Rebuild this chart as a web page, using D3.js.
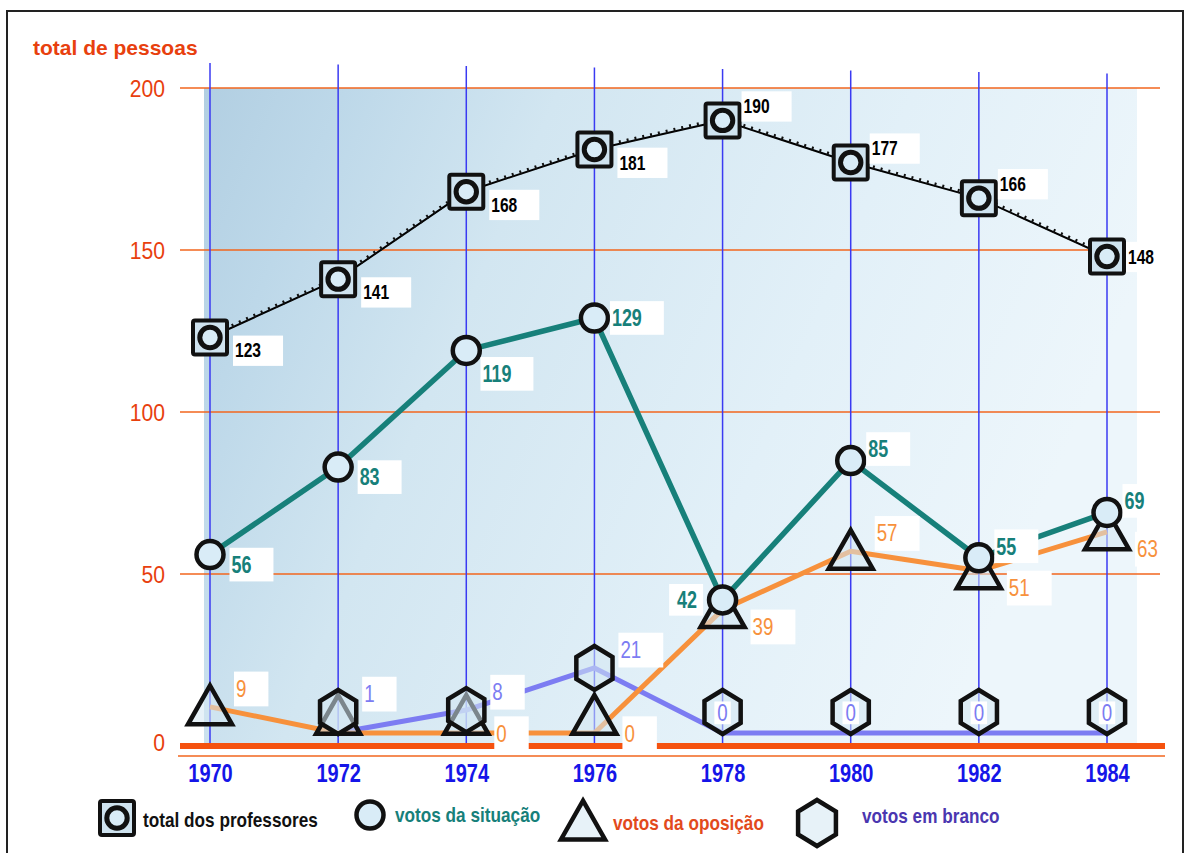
<!DOCTYPE html>
<html><head><meta charset="utf-8">
<script src="https://cdn.jsdelivr.net/npm/d3@7"></script>
<style>
html,body{margin:0;padding:0;background:#fff;}
svg{display:block;}
</style></head>
<body>
<svg id="chart" width="1186" height="853"></svg>
<script>
// ---- data ----
const years = [1970, 1972, 1974, 1976, 1978, 1980, 1982, 1984];
const totalProfessores = [123, 141, 168, 181, 190, 177, 166, 148];
const votosSituacao   = [56, 83, 119, 129, 42, 85, 55, 69];
const votosOposicao   = [9, 0, 0, 0, 39, 57, 51, 63];
const votosBranco     = [null, 1, 8, 21, 0, 0, 0, 0];
const yTicks = [0, 50, 100, 150, 200];
const yTitle = "total de pessoas";
const legendLabels = ["total dos professores", "votos da situação", "votos da oposição", "votos em branco"];

// label placement per point (layout only)
const placeTotal = ['rb','rb','rb','rb','ra','ra','ra','r'];
const placeSit   = ['rb','rb','b','r','l','ra','ra','ra'];
const placeOp    = ['ra',null,'rb','rb','rb','ra','rb','rb'];
const placeBr    = [null,'ra','ra','ra','c','c','c','c'];

const svg = d3.select("#chart");
const x = d3.scaleLinear().domain([1970, 1984]).range([210, 1107]);
const y = d3.scaleLinear().domain([0, 200]).range([736, 88]);
const SANS = "'Liberation Sans',Arial,Helvetica,sans-serif";

// frame
svg.append("rect").attr("x",7).attr("y",11).attr("width",1176).attr("height",850)
  .attr("fill","none").attr("stroke","#222").attr("stroke-width",2);

// background gradient
const defs = svg.append("defs");
const g1 = defs.append("linearGradient").attr("id","bg").attr("x1","0").attr("x2","1").attr("y1","0").attr("y2","0.3");
[[0,"#b2cfe2"],[0.14,"#bdd8e9"],[0.35,"#d2e6f1"],[0.7,"#e2f0f8"],[1,"#edf6fb"]].forEach(s=>
  g1.append("stop").attr("offset",s[0]).attr("stop-color",s[1]));
svg.append("rect").attr("x",x(1970)-6).attr("y",y(200)).attr("width",x(1984)-x(1970)+36)
  .attr("height",y(0)-y(200)+10).attr("fill","url(#bg)");

// gridlines (orange)
svg.append("g").selectAll("line").data(yTicks.filter(d=>d>0)).join("line")
  .attr("x1",180).attr("x2",1160).attr("y1",d=>y(d)).attr("y2",d=>y(d))
  .attr("stroke","#f2661e").attr("stroke-width",1.5);

// vertical year lines (blue)
svg.append("g").selectAll("line").data(years).join("line")
  .attr("x1",d=>x(d)).attr("x2",d=>x(d)).attr("y1",(d,i)=>63+i*1.5).attr("y2",y(0)+9)
  .attr("stroke","#3a3af2").attr("stroke-width",1.5);

// baseline (thick) + thin line
svg.append("line").attr("x1",180).attr("x2",1165).attr("y1",y(0)+10).attr("y2",y(0)+10)
  .attr("stroke","#f5520f").attr("stroke-width",6);
svg.append("line").attr("x1",178).attr("x2",1165).attr("y1",y(0)+20).attr("y2",y(0)+20)
  .attr("stroke","#f2661e").attr("stroke-width",1.5);

// helper: horizontally condensed text
function ctext(parent, tx, ty, str, o){
  const g = parent.append("g").attr("transform",`translate(${tx},${ty}) scale(${o.sx||0.8},1)`);
  g.append("text").attr("x",0).attr("y",0).attr("dy",o.dy||"0.36em")
    .attr("text-anchor",o.anchor||"start").attr("font-family",SANS)
    .attr("font-weight",o.weight||"bold").attr("font-size",o.size).attr("fill",o.color).text(str);
  return g;
}

// y tick labels
const yl = svg.append("g");
yTicks.forEach(d=>{
  ctext(yl, 165, d===0 ? y(0)+6 : y(d), d, {anchor:"end", size:24, weight:"normal", color:"#e8400e", sx:0.88});
});
svg.append("text").attr("x",33).attr("y",55).attr("font-family",SANS).attr("font-weight","bold")
  .attr("font-size",21).attr("fill","#e8400e").text(yTitle);

// x axis labels via d3 axis
const xAxis = d3.axisBottom(x).tickValues(years).tickFormat(d3.format("d")).tickSize(0);
const gx = svg.append("g").attr("transform",`translate(0,${y(0)+24})`).call(xAxis);
gx.select(".domain").remove();
gx.selectAll("text").attr("font-family",SANS).attr("font-weight","bold").attr("font-size",25)
  .attr("fill","#1515e8").attr("dy","0.75em").attr("transform","scale(0.8,1)");

// markers
function markerPath(type, s){
  if(type==="tri"){ const h=s*0.88; return `M0,${-h*0.55}L${s*0.5},${h*0.45}L${-s*0.5},${h*0.45}Z`; }
  if(type==="hex"){ const r=s*0.5; let p=[]; for(let k=0;k<6;k++){const a=Math.PI/3*k - Math.PI/2; p.push([r*0.95*Math.cos(a), r*Math.sin(a)]);} return "M"+p.map(q=>q.join(",")).join("L")+"Z"; }
  return "";
}
function drawMarker(g, type, cx, cy, s){
  const m = g.append("g").attr("transform",`translate(${cx},${cy})`);
  if(type==="sq"){
    m.append("rect").attr("x",-s/2).attr("y",-s/2).attr("width",s).attr("height",s)
      .attr("fill","#cfe3ef").attr("stroke","#111").attr("stroke-width",4).attr("rx",2);
    m.append("circle").attr("r",s*0.3).attr("fill","#d9ecf7").attr("stroke","#111").attr("stroke-width",5);
  } else if(type==="circ"){
    m.append("circle").attr("r",s/2).attr("fill","#d9ecf7").attr("stroke","#111").attr("stroke-width",4.5);
  } else {
    m.append("path").attr("d",markerPath(type,s)).attr("fill","#d4e8f3").attr("fill-opacity",0.55)
      .attr("stroke","#111").attr("stroke-width",4.5).attr("stroke-linejoin","miter");
  }
}

const series = [
  {vals: totalProfessores, type:"sq", size:34, color:"#000", lw:2, label:"#000", fs:20, w:"bold", place:placeTotal},
  {vals: votosSituacao, type:"circ", size:27, color:"#17807a", lw:5.5, label:"#17807a", fs:23, w:"bold", place:placeSit},
  {vals: votosOposicao, type:"tri", size:44, color:"#f7913c", lw:5, label:"#f7913c", fs:24, w:"normal", place:placeOp},
  {vals: votosBranco, type:"hex", size:44, color:"#7c7cf2", lw:5, label:"#7c7cf2", fs:24, w:"normal", place:placeBr}
];

// marker centre: markers of small values rest on the baseline
function cyOf(s, v){
  if(s.type==="sq"||s.type==="circ") return y(v);
  const base = y(0);
  const half = s.type==="tri" ? s.size*0.4 : s.size*0.5;
  return Math.min(y(v), base - half - 2);
}

const linesG = svg.append("g");
const markG = svg.append("g");
const labG = svg.append("g");

// lines
[3,2,1,0].forEach(si=>{
  const s = series[si];
  const pts = years.map((yr,i)=>({yr, v:s.vals[i]})).filter(p=>p.v!==null);
  const lineGen = d3.line().x(p=>x(p.yr)).y(p=> s.type==="sq"||s.type==="circ" ? y(p.v) : Math.min(y(p.v), y(0)-3));
  linesG.append("path").datum(pts).attr("d",lineGen).attr("fill","none")
    .attr("stroke",s.color).attr("stroke-width",s.lw).attr("stroke-linejoin","round");
  if(s.type==="sq"){
    linesG.append("path").datum(pts).attr("d",lineGen).attr("fill","none")
      .attr("stroke","#111").attr("stroke-width",4).attr("stroke-dasharray","2,6")
      .attr("transform","translate(0,-1.5)");
  }
});

// markers
[2,3,1,0].forEach(si=>{
  const s = series[si];
  years.forEach((yr,i)=>{
    const v = s.vals[i]; if(v===null) return;
    drawMarker(markG, s.type, x(yr), cyOf(s,v), s.size);
  });
});

// labels with white boxes
series.forEach(s=>{
  years.forEach((yr,i)=>{
    const v = s.vals[i]; const pl = s.place[i];
    if(v===null || pl===null) return;
    const cx = x(yr), cy = cyOf(s,v);
    const r = s.size/2;
    let tx=cx+r+6, ty=cy, anchor="start";
    if(pl==="rb"){ ty = cy + r*0.75; tx = cx + r + 8; }
    else if(pl==="ra"){ ty = cy - r*0.85; tx = cx + r + 4; }
    else if(pl==="r"){ tx = cx + r + 4; }
    else if(pl==="l"){ tx = cx - r - 12; anchor="end"; }
    else if(pl==="b"){ tx = cx + r*1.2; ty = cy + r + 10; }
    else if(pl==="c"){ tx = cx; anchor="middle"; }
    const lg = labG.append("g");
    ctext(lg, tx, ty, v, {anchor, size:s.fs, weight:s.w, color:s.label, sx:0.78});
    const bb = lg.node().getBBox();
    const rect = lg.insert("rect",":first-child").attr("fill","#fff");
    if(pl==="c"){
      rect.attr("x",bb.x-3).attr("y",bb.y+2).attr("width",bb.width+6).attr("height",bb.height-4);
    } else if(anchor==="end"){
      rect.attr("x",bb.x-8).attr("y",bb.y-3).attr("width",bb.width+14).attr("height",bb.height+6);
    } else {
      rect.attr("x",bb.x-2).attr("y",bb.y-4).attr("width",bb.width+24).attr("height",bb.height+8);
    }
  });
});

// legend
const legY = 818;
const legItems = [
  {type:"sq", mx:117, my:818, tx:143, ty:820, color:"#111", size:34},
  {type:"circ", mx:370, my:815, tx:395, ty:815, color:"#17807a", size:27},
  {type:"tri", mx:583, my:822, tx:613, ty:823, color:"#e24a1c", size:44},
  {type:"hex", mx:817, my:823, tx:862, ty:816, color:"#4a36b0", size:46}
];
const legG = svg.append("g");
legItems.forEach((it,i)=>{
  drawMarker(legG, it.type, it.mx, it.my, it.size);
  ctext(legG, it.tx, it.ty, legendLabels[i], {size:20, weight:"bold", color:it.color, sx:0.86});
});
</script>
</body></html>
